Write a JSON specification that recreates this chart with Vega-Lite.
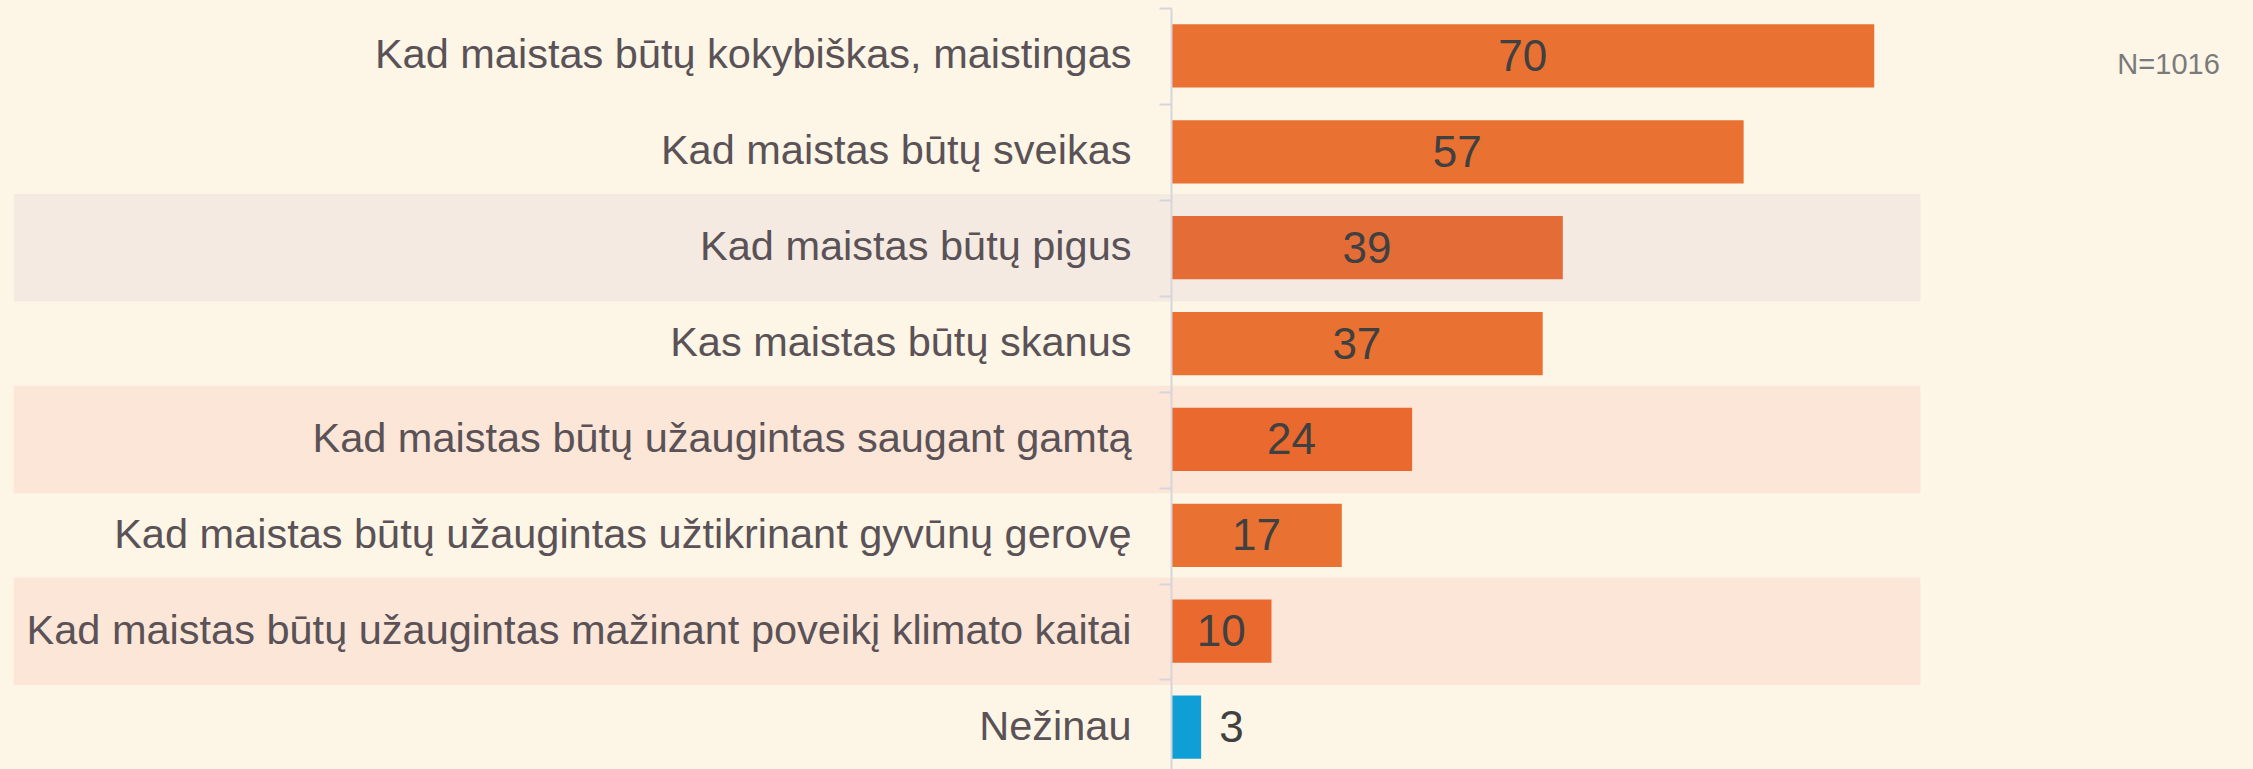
{
  "$schema": "https://vega.github.io/schema/vega-lite/v6.json",
  "width": 1082,
  "height": 767,
  "autosize": {"type": "none"},
  "padding": {"left": 1171, "top": 8, "right": 0, "bottom": 0},
  "background": "#FDF6E7",
  "config": {"view": {"stroke": null}, "font": "Liberation Sans"},
  "datasets": {
    "main": [
      {"label": "Kad maistas būtų kokybiškas, maistingas", "value": 70, "grupe": "pagr", "fonas": ""},
      {"label": "Kad maistas būtų sveikas", "value": 57, "grupe": "pagr", "fonas": ""},
      {"label": "Kad maistas būtų pigus", "value": 39, "grupe": "pigus", "fonas": "pilkas"},
      {"label": "Kas maistas būtų skanus ", "value": 37, "grupe": "pagr", "fonas": ""},
      {"label": "Kad maistas būtų užaugintas saugant gamtą", "value": 24, "grupe": "pabr", "fonas": "persikinis"},
      {"label": "Kad maistas būtų užaugintas užtikrinant gyvūnų gerovę", "value": 17, "grupe": "pagr", "fonas": ""},
      {"label": "Kad maistas būtų užaugintas mažinant poveikį klimato kaitai", "value": 10, "grupe": "pabr", "fonas": "persikinis"},
      {"label": "Nežinau", "value": 3, "grupe": "nezinau", "fonas": ""}
    ],
    "pastaba": [{"t": "N=1016"}]
  },
  "data": {"name": "main"},
  "encoding": {
    "y": {
      "field": "label",
      "type": "nominal",
      "sort": null,
      "scale": {
        "domain": [
          "Kad maistas būtų kokybiškas, maistingas",
          "Kad maistas būtų sveikas",
          "Kad maistas būtų pigus",
          "Kas maistas būtų skanus ",
          "Kad maistas būtų užaugintas saugant gamtą",
          "Kad maistas būtų užaugintas užtikrinant gyvūnų gerovę",
          "Kad maistas būtų užaugintas mažinant poveikį klimato kaitai",
          "Nežinau"
        ],
        "paddingInner": 0.34,
        "paddingOuter": 0.17
      },
      "axis": {
        "title": null,
        "zindex": 1,
        "labelFont": "Liberation Sans",
        "labelFontSize": 41.5,
        "labelColor": "#5A5256",
        "labelPadding": 28,
        "labelLimit": 1200,
        "labelOffset": 16,
        "bandPosition": 0,
        "tickOffset": -16,
        "tickColor": "#D8D4DC",
        "tickSize": 12,
        "tickWidth": 2,
        "domainColor": "#D8D4DC",
        "domainWidth": 2
      }
    }
  },
  "layer": [
    {
      "transform": [{"filter": {"field": "fonas", "oneOf": ["pilkas", "persikinis"]}}],
      "mark": {"type": "bar", "height": {"band": 1.7}},
      "encoding": {
        "x": {"datum": -115.2, "type": "quantitative", "scale": {"domain": [0, 107.7], "nice": false, "zero": false}, "axis": null},
        "x2": {"datum": 74.6},
        "color": {
          "field": "fonas",
          "type": "nominal",
          "scale": {"domain": ["pilkas", "persikinis"], "range": ["#F4EAE2", "#FBE6D8"]},
          "legend": null
        }
      }
    },
    {
      "mark": {"type": "bar"},
      "encoding": {
        "x": {"field": "value", "type": "quantitative", "axis": null},
        "color": {
          "field": "grupe",
          "type": "nominal",
          "scale": {"domain": ["pagr", "pigus", "pabr", "nezinau"], "range": ["#E97132", "#E36C37", "#E9692E", "#0F9ED5"]},
          "legend": null
        }
      }
    },
    {
      "transform": [{"filter": "datum.value >= 5"}, {"calculate": "datum.value / 2", "as": "mid"}],
      "mark": {"type": "text", "font": "Liberation Sans", "fontSize": 44, "color": "#404040", "baseline": "middle", "align": "center", "dy": 2},
      "encoding": {
        "x": {"field": "mid", "type": "quantitative", "axis": null},
        "text": {"field": "value", "type": "quantitative"}
      }
    },
    {
      "transform": [{"filter": "datum.value < 5"}],
      "mark": {"type": "text", "font": "Liberation Sans", "fontSize": 44, "color": "#404040", "baseline": "middle", "align": "left", "dx": 18, "dy": 2},
      "encoding": {
        "x": {"field": "value", "type": "quantitative", "axis": null},
        "text": {"field": "value", "type": "quantitative"}
      }
    },
    {
      "data": {"name": "pastaba"},
      "mark": {"type": "text", "font": "Liberation Sans", "fontSize": 29, "color": "#7A7A7A", "baseline": "middle", "align": "left", "dy": 9},
      "encoding": {
        "x": {"datum": 94.2, "type": "quantitative", "axis": null},
        "y": {"datum": "Kad maistas būtų kokybiškas, maistingas", "type": "nominal"},
        "text": {"field": "t", "type": "nominal"}
      }
    }
  ],
  "resolve": {"scale": {"color": "independent"}}
}
